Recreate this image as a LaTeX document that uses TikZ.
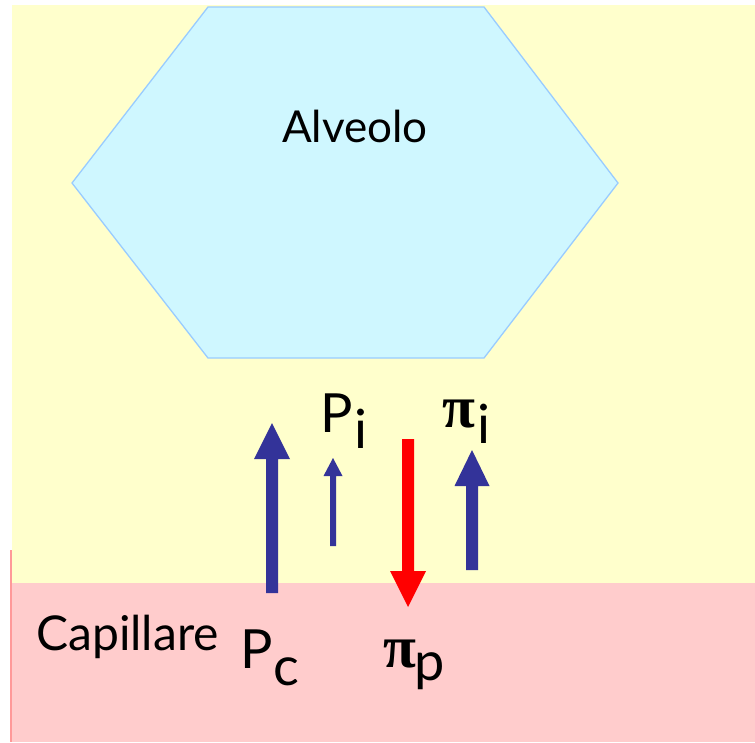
\documentclass[tikz,border=0pt]{standalone}
\usepackage{fontspec}
\setmainfont{Lato}
\newfontfamily\greekfont{Liberation Serif}
\definecolor{yellowfill}{HTML}{FFFFCC}
\definecolor{pinkfill}{HTML}{FFCCCC}
\definecolor{pinkline}{HTML}{FF9999}
\definecolor{hexfill}{HTML}{CFF7FF}
\definecolor{hexline}{HTML}{99CCFF}
\definecolor{arrowblue}{HTML}{333399}
\definecolor{arrowred}{HTML}{FF0000}
\begin{document}
\begin{tikzpicture}[x=1pt,y=-1pt,
  lbl/.style={anchor=base west,inner sep=0pt,font=\fontsize{54}{60}\selectfont},
  glbl/.style={anchor=base west,inner sep=0pt,font=\greekfont\bfseries\fontsize{60}{66}\selectfont},
  bluearrow/.style={fill=arrowblue},
  redarrow/.style={fill=arrowred}]
\useasboundingbox (0,0) rectangle (755,742);
\fill[white] (0,0) rectangle (755,742);
% capillary (pink)
\fill[pinkfill] (10,550) rectangle (755,742);
\draw[pinkline,line width=1.5pt] (10.75,550) -- (10.75,742);
% interstitium (yellow)
\fill[yellowfill] (12,5) rectangle (755,583);
% alveolus
\draw[fill=hexfill,draw=hexline,line width=1.3pt]
  (72,183) -- (208,7) -- (484,7) -- (618,183) -- (484,358) -- (208,358) -- cycle;
\node[anchor=base,inner sep=0pt,font=\fontsize{44}{50}\selectfont] (alv) at (355,142) {Alveolo};
% arrows
\fill[bluearrow] (266,593) -- (266,459) -- (254,459) -- (272,423) -- (290,459) -- (278,459) -- (278,593) -- cycle;
\fill[bluearrow] (330,546) -- (330,476) -- (323.5,476) -- (333,458) -- (342.5,476) -- (336,476) -- (336,546) -- cycle;
\fill[redarrow] (402,439) -- (402,571) -- (390,571) -- (408,607) -- (426,571) -- (414,571) -- (414,439) -- cycle;
\fill[bluearrow] (466,570) -- (466,486) -- (454.5,486) -- (472,450) -- (489.5,486) -- (478,486) -- (478,570) -- cycle;
% labels
\node[anchor=base west,inner sep=0pt,font=\fontsize{48}{54}\selectfont] (cap) at (36,650) {Capillare};
\node[lbl] (Pc) at (240,668) {P};
\node[lbl] (Pcs) at (273,685) {c};
\node[lbl] (Pi) at (320,432) {P};
\node[lbl] (Pis) at (354,448) {i};
\node[glbl] (pii) at (442,427) {π};
\node[lbl] (piis) at (477,443) {i};
\node[glbl] (pip) at (383,667) {π};
\node[lbl] (pips) at (414,680) {p};
\end{tikzpicture}
\end{document}
